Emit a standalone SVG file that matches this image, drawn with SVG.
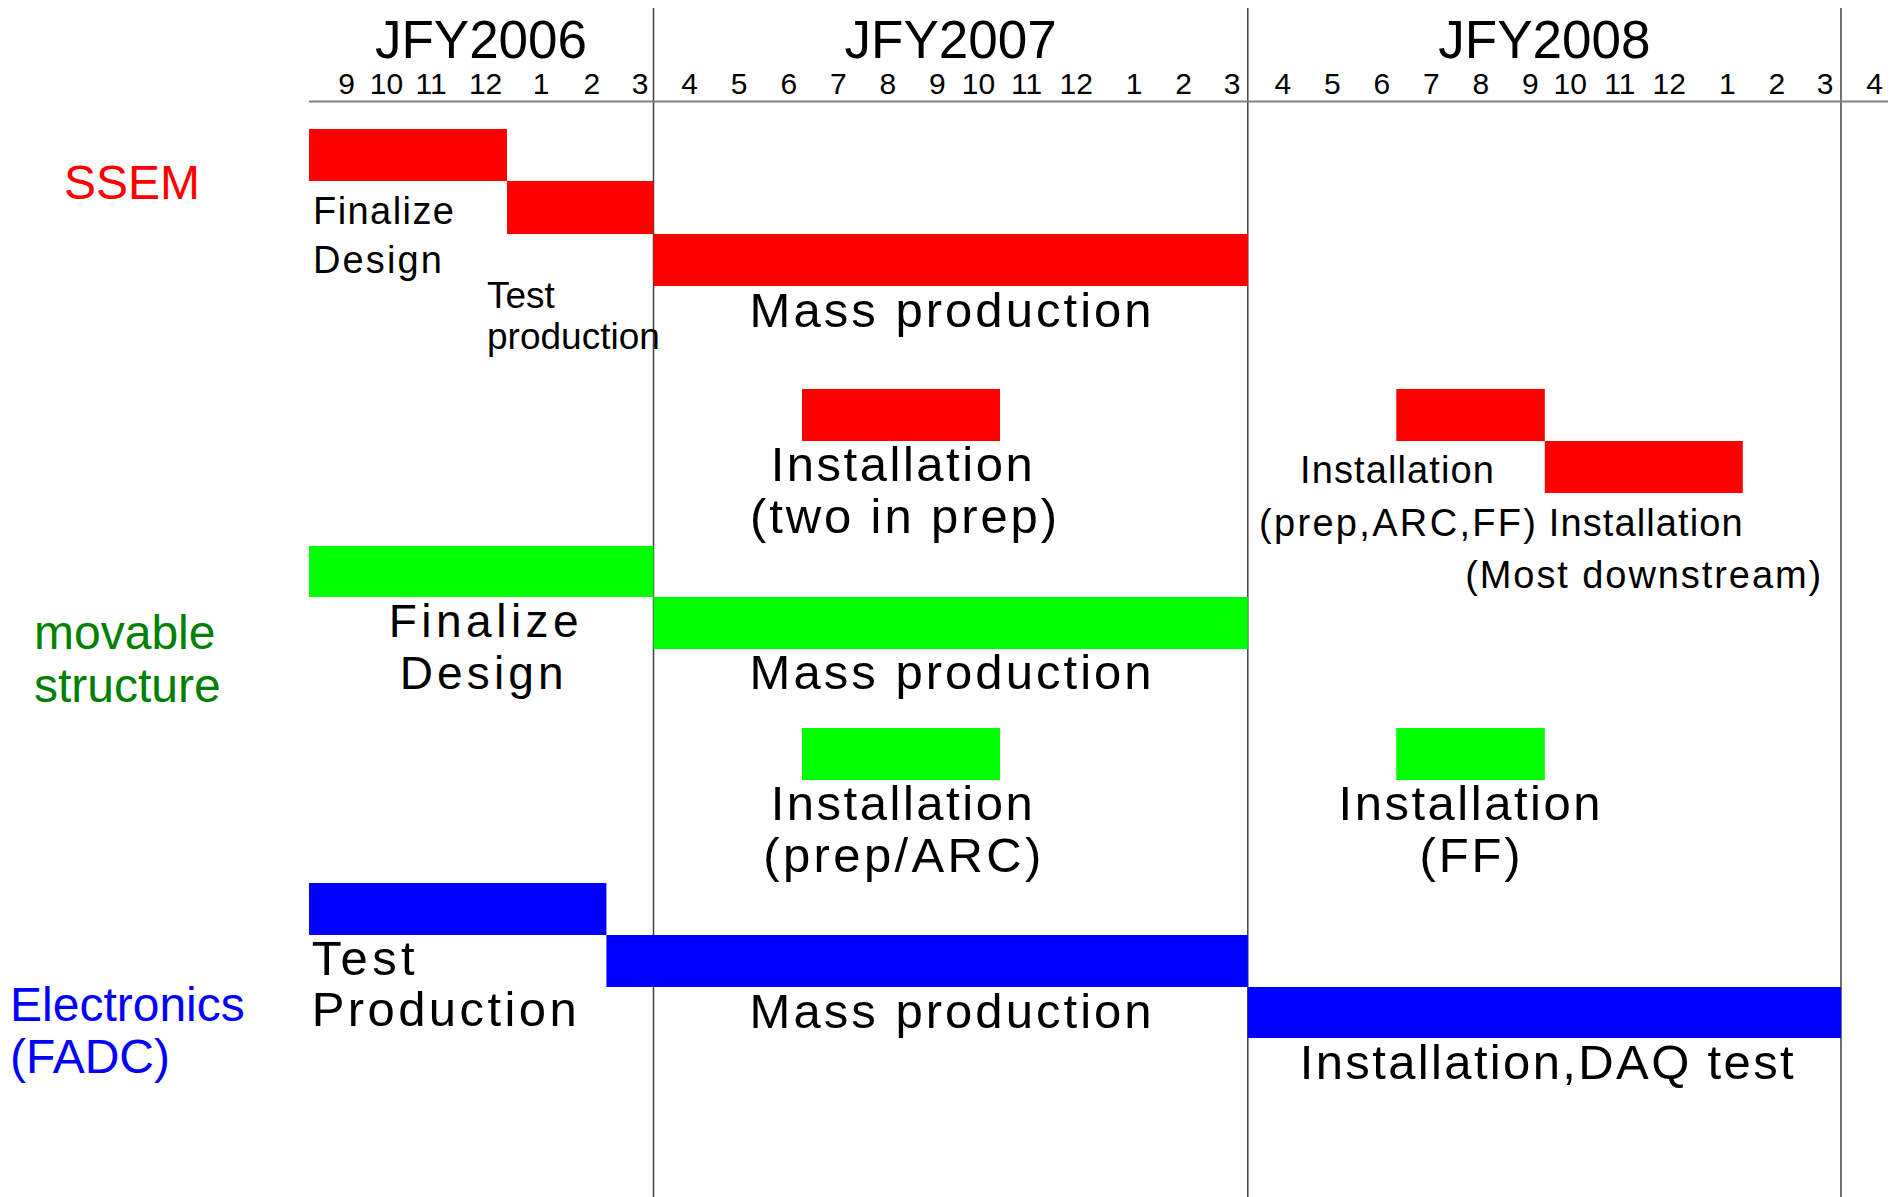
<svg xmlns="http://www.w3.org/2000/svg" width="1894" height="1197" viewBox="0 0 1894 1197">
<style>
text{font-family:"Liberation Sans",Arial,sans-serif;fill:#000}
.yr{font-size:53px;text-anchor:middle}
.mo{font-size:30px;text-anchor:middle}
.big{font-size:49px;text-anchor:middle}
.bigl{font-size:49px}
.sm{font-size:38px}
.smt{font-size:37px}
.smc{font-size:38px;text-anchor:middle}
.side{font-size:48px}
.red{fill:#ff0000}
.grn{fill:#00ff00}
.blu{fill:#0000ff}
.vl{stroke:#404040;stroke-width:1.5}
.hl{stroke:#808080;stroke-width:2}
</style>
<rect width="1894" height="1197" fill="#fff"/>
<g id="grid">
<line class="vl" x1="653.5" y1="8" x2="653.5" y2="1197"/>
<line class="vl" x1="1247.8" y1="8" x2="1247.8" y2="1197"/>
<line class="vl" x1="1841" y1="8" x2="1841" y2="1197"/>
<line class="hl" x1="309" y1="101.5" x2="1888" y2="101.5"/>
</g>
<g id="years">
<text class="yr" x="481" y="58">JFY2006</text>
<text class="yr" x="950.6" y="58">JFY2007</text>
<text class="yr" x="1544.4" y="58">JFY2008</text>
</g>
<g id="months">
<text class="mo" x="346.7" y="94">9</text>
<text class="mo" x="386.5" y="94">10</text>
<text class="mo" x="431.2" y="94">11</text>
<text class="mo" x="485.6" y="94">12</text>
<text class="mo" x="541.1" y="94">1</text>
<text class="mo" x="591.9" y="94">2</text>
<text class="mo" x="640.2" y="94">3</text>
<text class="mo" x="689.7" y="94">4</text>
<text class="mo" x="739.2" y="94">5</text>
<text class="mo" x="788.8" y="94">6</text>
<text class="mo" x="838.3" y="94">7</text>
<text class="mo" x="887.8" y="94">8</text>
<text class="mo" x="937.3" y="94">9</text>
<text class="mo" x="978.4" y="94">10</text>
<text class="mo" x="1026.7" y="94">11</text>
<text class="mo" x="1076.2" y="94">12</text>
<text class="mo" x="1134.2" y="94">1</text>
<text class="mo" x="1183.7" y="94">2</text>
<text class="mo" x="1232.1" y="94">3</text>
<text class="mo" x="1282.8" y="94">4</text>
<text class="mo" x="1332.3" y="94">5</text>
<text class="mo" x="1381.8" y="94">6</text>
<text class="mo" x="1431.4" y="94">7</text>
<text class="mo" x="1480.9" y="94">8</text>
<text class="mo" x="1530.4" y="94">9</text>
<text class="mo" x="1570.3" y="94">10</text>
<text class="mo" x="1619.8" y="94">11</text>
<text class="mo" x="1669.3" y="94">12</text>
<text class="mo" x="1727.3" y="94">1</text>
<text class="mo" x="1776.8" y="94">2</text>
<text class="mo" x="1825.1" y="94">3</text>
<text class="mo" x="1874.7" y="94">4</text>
</g>
<g id="label-ssem"><text class="side red" x="64" y="199">SSEM</text></g>
<g id="label-movable"><text class="side" style="fill:#008000" x="34" y="649">movable</text><text class="side" style="fill:#008000" x="34" y="701.5">structure</text></g>
<g id="label-electronics"><text class="side blu" x="10" y="1021">Electronics</text><text class="side blu" x="10" y="1073">(FADC)</text></g>

<g id="ssem-finalize">
<rect class="red" x="309" y="129" width="198" height="52"/>
<text class="sm" x="313" y="224" textLength="141" lengthAdjust="spacing">Finalize</text>
<text class="sm" x="313" y="273" textLength="129" lengthAdjust="spacing">Design</text>
</g>
<g id="ssem-test">
<rect class="red" x="507" y="181" width="146.5" height="53"/>
<text class="smt" x="487" y="308">Test</text>
<text class="smt" x="487" y="349">production</text>
</g>
<g id="ssem-mass">
<rect class="red" x="653.5" y="234" width="594.3" height="52"/>
<text class="big" x="950.6" y="327" textLength="402" lengthAdjust="spacing">Mass production</text>
</g>
<g id="ssem-inst1">
<rect class="red" x="802" y="389" width="198" height="52"/>
<text class="big" x="901.7" y="481" textLength="262" lengthAdjust="spacing">Installation</text>
<text class="big" x="903.5" y="533" textLength="307" lengthAdjust="spacing">(two in prep)</text>
</g>
<g id="ssem-inst2">
<rect class="red" x="1396.3" y="389" width="148.5" height="52"/>
<text class="smc" x="1397" y="483" textLength="194" lengthAdjust="spacing">Installation</text>
<text class="smc" x="1397.5" y="536" textLength="277" lengthAdjust="spacing">(prep,ARC,FF)</text>
</g>
<g id="ssem-inst3">
<rect class="red" x="1544.8" y="441" width="198" height="52"/>
<text class="smc" x="1645.7" y="536" textLength="194" lengthAdjust="spacing">Installation</text>
<text class="smc" x="1643.2" y="588" textLength="356" lengthAdjust="spacing">(Most downstream)</text>
</g>

<g id="ms-finalize">
<rect class="grn" x="309" y="546" width="344.5" height="51"/>
<text class="big" style="font-size:46px" x="483.7" y="637" textLength="190" lengthAdjust="spacing">Finalize</text>
<text class="big" style="font-size:46px" x="481.7" y="689" textLength="164" lengthAdjust="spacing">Design</text>
</g>
<g id="ms-mass">
<rect class="grn" x="653.5" y="597" width="594.3" height="52"/>
<text class="big" x="950.6" y="689" textLength="402" lengthAdjust="spacing">Mass production</text>
</g>
<g id="ms-inst1">
<rect class="grn" x="802" y="728" width="198" height="52"/>
<text class="big" x="901.7" y="820" textLength="262" lengthAdjust="spacing">Installation</text>
<text class="big" x="902.3" y="872" textLength="278" lengthAdjust="spacing">(prep/ARC)</text>
</g>
<g id="ms-inst2">
<rect class="grn" x="1396.3" y="728" width="148.5" height="52"/>
<text class="big" x="1469.5" y="820" textLength="262" lengthAdjust="spacing">Installation</text>
<text class="big" x="1470" y="872" textLength="101" lengthAdjust="spacing">(FF)</text>
</g>

<g id="el-test">
<rect class="blu" x="309" y="883" width="297.4" height="52"/>
<text class="bigl" x="311.7" y="975" textLength="103" lengthAdjust="spacing">Test</text>
<text class="bigl" x="311.7" y="1026" textLength="265" lengthAdjust="spacing">Production</text>
</g>
<g id="el-mass">
<rect class="blu" x="606.4" y="935" width="641.4" height="52"/>
<text class="big" x="950.6" y="1028" textLength="402" lengthAdjust="spacing">Mass production</text>
</g>
<g id="el-inst">
<rect class="blu" x="1247.8" y="987" width="593.2" height="51"/>
<text class="big" x="1546.7" y="1079" textLength="494" lengthAdjust="spacing">Installation,DAQ test</text>
</g>
</svg>
